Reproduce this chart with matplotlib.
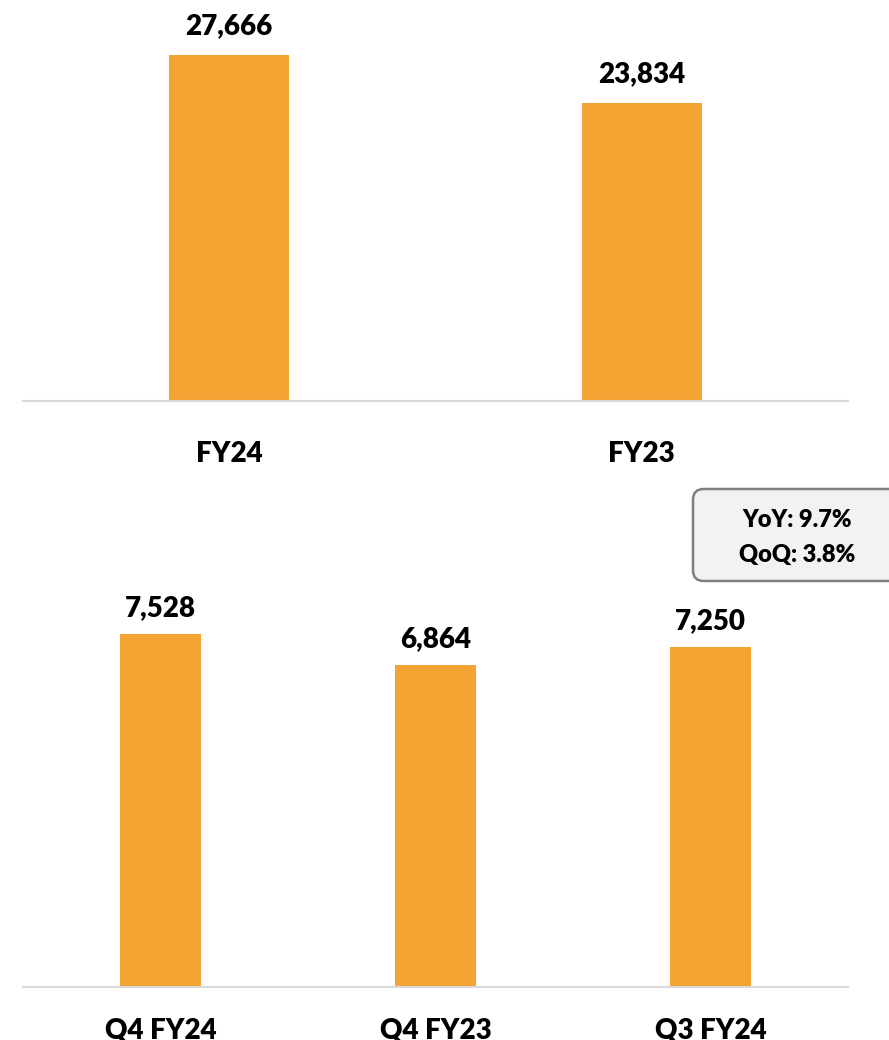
import matplotlib
matplotlib.use("Agg")
import matplotlib.pyplot as plt
from matplotlib.patches import FancyBboxPatch

# ---- data ----
annual_labels = ["FY24", "FY23"]
annual_values = [27666, 23834]
quarter_labels = ["Q4 FY24", "Q4 FY23", "Q3 FY24"]
quarter_values = [7528, 6864, 7250]
note_lines = ["YoY: 9.7%", "QoQ: 3.8%"]

BAR = "#F3A433"
AXIS = "#D9D9D9"
FONT = "Lato"
WEIGHT = "heavy"

W, H = 889, 1040
fig = plt.figure(figsize=(W / 100, H / 100), dpi=100)
plt.rcParams["font.family"] = [FONT, "DejaVu Sans"]


def px_axes(x0, x1, y_top, y_bottom):
    return fig.add_axes([x0 / W, 1 - y_bottom / H, (x1 - x0) / W, (y_bottom - y_top) / H])


def style(ax, labels, pad):
    for s in ["top", "right", "left"]:
        ax.spines[s].set_visible(False)
    ax.spines["bottom"].set_color(AXIS)
    ax.spines["bottom"].set_linewidth(1.5)
    ax.set_yticks([])
    ax.set_xticks(range(len(labels)))
    ax.set_xticklabels(labels, fontsize=20, fontweight=WEIGHT, color="black")
    ax.tick_params(axis="x", length=0, pad=pad)


# top chart
ax1 = px_axes(23, 848, 0, 401)
max1 = max(annual_values)
ax1.set_ylim(0, max1 * 401 / 346)
ax1.set_xlim(-0.5, len(annual_values) - 0.5)
bars = ax1.bar(range(len(annual_values)), annual_values, width=0.29, color=BAR, zorder=2)
for b, v in zip(bars, annual_values):
    ax1.annotate(f"{v:,}", (b.get_x() + b.get_width() / 2, v), xytext=(0, 29),
                 textcoords="offset pixels", ha="center", va="center",
                 fontsize=20, fontweight=WEIGHT, color="black")
style(ax1, annual_labels, 29)

# bottom chart
ax2 = px_axes(23, 848, 590, 987)
max2 = max(quarter_values)
ax2.set_ylim(0, max2 * 397 / 353)
ax2.set_xlim(-0.5, len(quarter_values) - 0.5)
bars = ax2.bar(range(len(quarter_values)), quarter_values, width=0.295, color=BAR, zorder=2)
for b, v in zip(bars, quarter_values):
    ax2.annotate(f"{v:,}", (b.get_x() + b.get_width() / 2, v), xytext=(0, 26),
                 textcoords="offset pixels", ha="center", va="center",
                 fontsize=20, fontweight=WEIGHT, color="black")
style(ax2, quarter_labels, 22)

# note box
bx0, by0, bx1, by1 = 693, 489, 905, 581
box = FancyBboxPatch((bx0 / W, 1 - by1 / H), (bx1 - bx0) / W, (by1 - by0) / H,
                     boxstyle="round,pad=0,rounding_size=0.012",
                     transform=fig.transFigure, facecolor="#F2F2F2",
                     edgecolor="#7F7F7F", linewidth=1.8, mutation_aspect=W / H)
fig.add_artist(box)
for i, line in enumerate(note_lines):
    fig.text(797 / W, 1 - (520 + 35 * i) / H, line, ha="center", va="center",
             fontsize=17, fontweight=WEIGHT, color="black")

fig.savefig("out.png", dpi=100)
